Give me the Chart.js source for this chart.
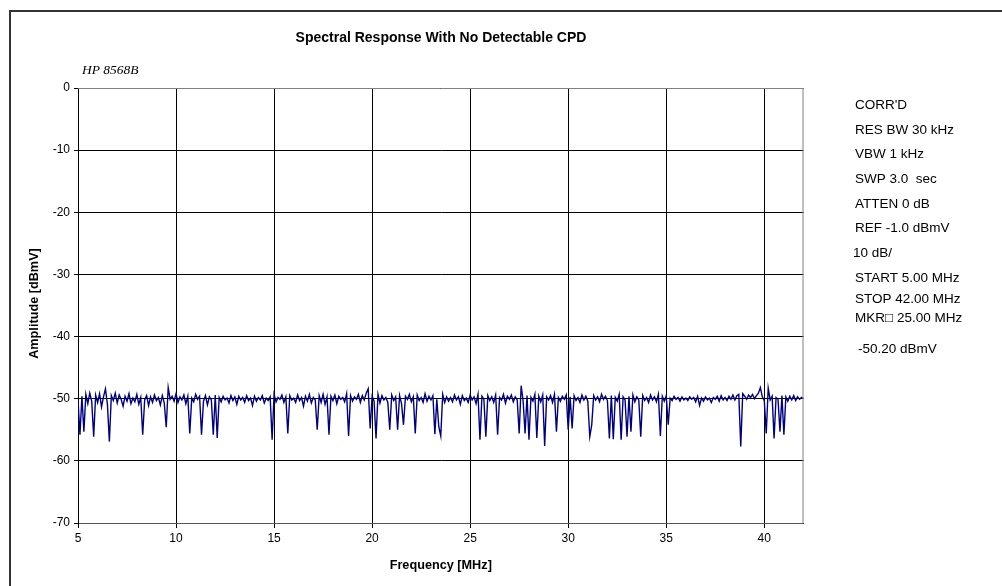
<!DOCTYPE html>
<html>
<head>
<meta charset="utf-8">
<script src="https://cdn.jsdelivr.net/npm/chart.js@4"></script>
<style>
  html, body { margin: 0; padding: 0; background: #fff; }
  #wrap { width: 1002px; height: 586px; }
</style>
</head>
<body>
<div id="wrap"><canvas id="spectrum" width="1002" height="586"></canvas></div>
<script>
// sweep settings (MHz) and the trace, one row per MHz, 0.1 MHz apart
const START_MHZ = 5;
const STOP_MHZ = 42;
const amplitude = [
  -50.2, -55.8, -49.6, -55.3, -49.3, -50.8, -49.1, -50.4, -56.1, -49.4,
  -50.6, -49.2, -51.3, -49.7, -48.4, -50.9, -56.9, -49.5, -50.3, -49.1,
  -50.7, -49.4, -50.1, -51.2, -49.6, -50.4, -49.2, -50.8, -49.9, -50.5,
  -49.3, -50.9, -49.8, -55.8, -50.2, -49.5, -51.1, -49.7, -50.6, -49.4,
  -50.3, -49.8, -51.0, -49.5, -50.7, -54.6, -48.2, -50.1, -49.6, -50.4,
  -49.2, -50.6, -49.7, -50.2, -49.4, -50.8, -49.6, -55.6, -49.9, -50.5,
  -49.3, -50.1, -49.6, -55.8, -50.4, -49.5, -51.0, -49.7, -50.2, -55.8,
  -49.4, -56.3, -49.8, -50.5, -49.6, -50.2, -49.9, -50.7, -49.5, -50.3,
  -49.7, -50.9, -49.6, -50.2, -49.8, -50.6, -49.5, -50.3, -49.9, -51.1,
  -49.6, -50.4, -49.8, -50.2, -49.5, -50.7, -49.9, -50.3, -49.7, -56.6,
  -49.3, -50.5, -49.8, -50.1, -49.4, -50.6, -49.7, -55.6, -49.5, -50.2,
  -49.9, -50.6, -49.4, -50.3, -49.8, -51.2, -49.6, -50.4, -49.3, -50.7,
  -49.8, -50.2, -55.0, -49.5, -50.6, -49.3, -50.9, -49.7, -55.8, -49.6,
  -50.3, -49.4, -50.8, -49.6, -50.1, -49.8, -50.5, -49.2, -56.0, -49.5,
  -50.4, -49.7, -50.1, -49.3, -50.6, -49.5, -50.2, -49.1, -48.4, -54.8,
  -49.6, -50.4, -56.4, -49.3, -50.7, -49.5, -50.2, -49.8, -50.6, -55.0,
  -49.4, -50.3, -49.7, -55.0, -49.5, -50.8, -54.2, -49.6, -50.1, -49.3,
  -50.5, -49.7, -55.6, -49.4, -50.3, -49.8, -50.6, -49.2, -50.4, -49.6,
  -50.2, -49.5, -55.7, -50.1, -54.5, -56.0, -49.3, -50.6, -49.7, -50.4,
  -49.8, -50.5, -49.4, -50.2, -49.7, -50.9, -49.5, -50.3, -49.9, -50.6,
  -49.4, -50.2, -49.7, -50.8, -49.3, -56.6, -49.6, -50.1, -56.1, -49.5,
  -50.3, -49.7, -50.6, -49.4, -55.8, -49.8, -50.2, -49.3, -50.7, -49.6,
  -50.1, -49.4, -50.5, -49.7, -50.2, -55.6, -47.9, -50.3, -55.6, -49.5,
  -56.6, -49.8, -50.4, -49.3, -56.3, -49.6, -50.5, -49.4, -57.6, -49.7,
  -50.2, -49.5, -50.6, -49.3, -55.3, -49.8, -50.4, -49.6, -50.1, -49.4,
  -55.0, -49.7, -54.8, -49.5, -50.3, -49.8, -50.6, -49.4, -50.2, -49.6,
  -50.4, -56.1, -54.2, -49.5, -50.2, -49.7, -50.5, -49.3, -50.1, -49.6,
  -50.3, -56.4, -49.5, -56.5, -49.8, -50.4, -49.3, -56.6, -49.7, -50.2,
  -56.1, -49.6, -55.3, -49.4, -50.5, -49.7, -50.2, -56.1, -49.5, -50.3,
  -49.8, -50.6, -49.4, -50.2, -49.7, -50.5, -49.3, -56.0, -49.6, -50.4,
  -49.5, -54.2, -49.9, -50.3, -49.6, -50.1, -49.8, -50.4, -49.7, -50.2,
  -49.9, -50.3, -49.7, -50.1, -49.8, -50.5, -49.6, -51.1, -49.9, -50.4,
  -49.7, -50.2, -49.9, -50.6, -49.8, -50.1, -49.6, -50.4, -49.5, -50.2,
  -49.8, -50.3, -49.6, -50.1, -49.4, -50.2, -49.5, -49.3, -57.7, -49.2,
  -49.6, -50.1, -49.4, -49.8, -49.3, -50.0, -49.5, -49.1, -48.2, -49.7,
  -50.3, -55.6, -48.3, -50.2, -49.6, -56.4, -49.8, -50.1, -55.3, -49.5,
  -55.8, -49.7, -50.4, -49.6, -50.2, -49.5, -50.3, -49.7, -50.1, -49.8,
  -50.0
];
const yTicks = [0, -10, -20, -30, -40, -50, -60, -70];
const xTicks = [5, 10, 15, 20, 25, 30, 35, 40];
const settings = [
  "CORR'D", "RES BW 30 kHz", "VBW 1 kHz", "SWP 3.0  sec", "ATTEN 0 dB",
  "REF -1.0 dBmV", "10 dB/", "START 5.00 MHz", "STOP 42.00 MHz", "MKR\u25A1 25.00 MHz"
];
const markerReading = "-50.20 dBmV";

const FONT = "'Liberation Sans', Arial, sans-serif";
const step = (STOP_MHZ - START_MHZ) / (amplitude.length - 1);
const trace = amplitude.map((v, i) => ({ x: START_MHZ + i * step, y: v }));

const decor = {
  id: 'decor',
  afterDraw(chart) {
    const c = chart.ctx, a = chart.chartArea;
    c.save();
    // plot frame
    c.strokeStyle = '#808080';
    c.lineWidth = 1;
    c.beginPath();
    c.moveTo(a.left, a.top + 0.5); c.lineTo(a.right, a.top + 0.5);
    c.moveTo(a.right - 0.5, a.top); c.lineTo(a.right - 0.5, a.bottom);
    c.stroke();
    // outer frame
    c.strokeStyle = '#333';
    c.lineWidth = 2;
    c.beginPath();
    c.moveTo(10, 586); c.lineTo(10, 11); c.lineTo(1002, 11);
    c.stroke();

    c.fillStyle = '#000';
    c.textBaseline = 'middle';
    c.textAlign = 'center';
    c.font = 'bold 14px ' + FONT;
    c.fillText('Spectral Response With No Detectable CPD', 441, 38);
    c.font = 'bold 12.7px ' + FONT;
    c.fillText('Frequency [MHz]', (a.left + a.right) / 2, 565);
    c.save();
    c.translate(34, (a.top + a.bottom) / 2 - 2);
    c.rotate(-Math.PI / 2);
    c.fillText('Amplitude [dBmV]', 0, 0);
    c.restore();

    c.textAlign = 'left';
    c.font = "italic 13.5px 'Liberation Serif', 'Times New Roman', serif";
    c.fillText('HP 8568B', 82, 70);

    c.font = '13.5px ' + FONT;
    const ys = [105, 130, 154, 179, 204, 228, 253, 278, 299, 318];
    settings.forEach((t, i) => c.fillText(t, t === '10 dB/' ? 853 : 855, ys[i]));
    c.fillText(markerReading, 858, 349);
    c.restore();
  }
};

new Chart(document.getElementById('spectrum').getContext('2d'), {
  type: 'line',
  data: {
    datasets: [{
      data: trace,
      borderColor: '#000080',
      borderWidth: 1.4,
      pointRadius: 0,
      tension: 0,
      fill: false
    }]
  },
  options: {
    responsive: false,
    animation: false,
    layout: { padding: { top: 88, right: 198.5, left: 0, bottom: 0 } },
    plugins: { legend: { display: false }, tooltip: { enabled: false } },
    scales: {
      x: {
        type: 'linear',
        min: START_MHZ,
        max: STOP_MHZ,
        afterBuildTicks: s => { s.ticks = xTicks.map(v => ({ value: v })); },
        afterFit: s => { s.height = 63; },
        ticks: { color: '#000', font: { family: FONT, size: 12 }, padding: 3, maxRotation: 0 },
        grid: { color: '#000', lineWidth: 1, tickLength: 5 },
        border: { color: '#555', width: 1 }
      },
      y: {
        min: -70,
        max: 0,
        afterBuildTicks: s => { s.ticks = yTicks.map(v => ({ value: v })); },
        afterFit: s => { s.width = 78; },
        ticks: { color: '#000', font: { family: FONT, size: 12 }, padding: 4 },
        grid: { color: '#000', lineWidth: 1, tickLength: 4 },
        border: { color: '#000', width: 1 }
      }
    }
  },
  plugins: [decor]
});
</script>
</body>
</html>
